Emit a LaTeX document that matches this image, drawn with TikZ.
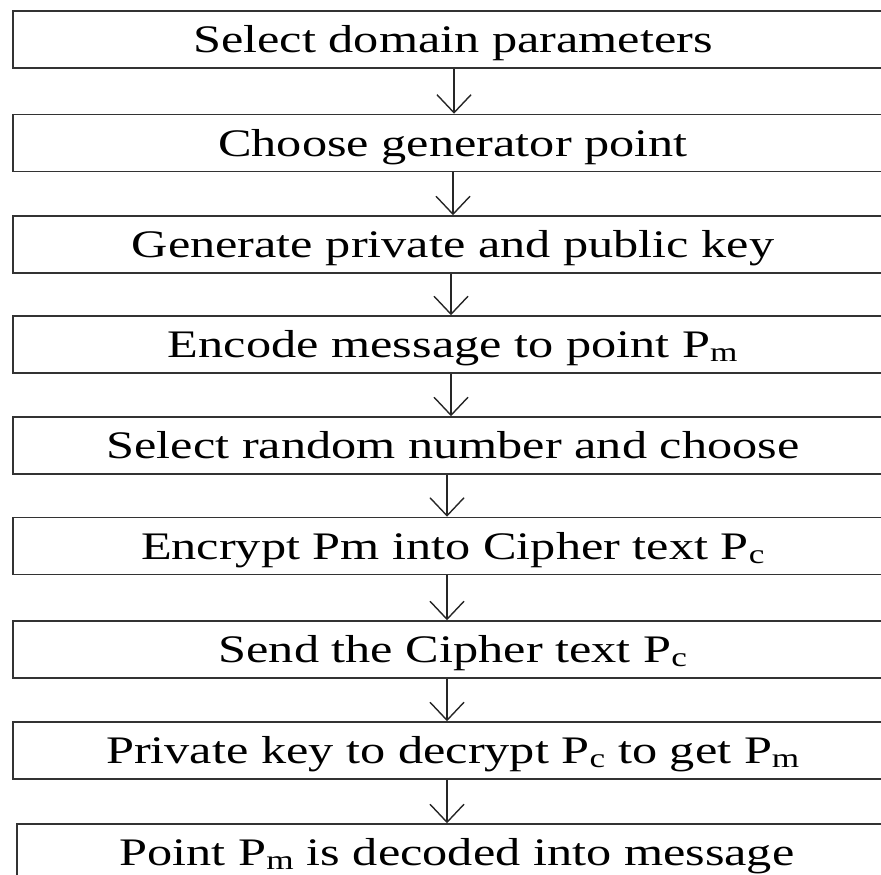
\documentclass[tikz,border=0pt]{standalone}
\usepackage{fontspec}
\setmainfont{Liberation Serif}[FakeStretch=1.29]
\usetikzlibrary{arrows.meta}
\begin{document}
\begin{tikzpicture}[x=1pt,y=-1pt,
  stepbox/.style={draw=black!80, line width=1.5pt, rectangle, minimum width=880pt,
    minimum height=57pt, inner sep=0pt, text height=26pt, text depth=0pt,
    font=\fontsize{39}{46}\selectfont},
  flow/.style={draw=black!85, line width=1.4pt,
    -{Straight Barb[length=18pt,width=34pt,line width=1.4pt]}}]
\useasboundingbox (0,0) rectangle (881,875);
\clip (0,0) rectangle (881,875);
\node[stepbox, line width=2pt] (b1) at (453,39.5) {Select domain parameters};
\node[stepbox] (b2) at (453,143) {Choose generator point};
\node[stepbox] (b3) at (453,244.5) {Generate private and public key};
\node[stepbox] (b4) at (453,344.5) {Encode message to point P\textsubscript{m}};
\node[stepbox] (b5) at (453,445.5) {Select random number and choose};
\node[stepbox] (b6) at (453,546) {Encrypt Pm into Cipher text P\textsubscript{c}};
\node[stepbox] (b7) at (453,649.5) {Send the Cipher text P\textsubscript{c}};
\node[stepbox] (b8) at (453,750.5) {Private key to decrypt P\textsubscript{c} to get P\textsubscript{m}};
\node[stepbox] (b9) at (457,852.5) {Point P\textsubscript{m} is decoded into message};
\draw[flow] ([xshift=1pt]b1.south) -- ([xshift=1pt]b2.north);
\draw[flow] ([xshift=0pt]b2.south) -- ([xshift=0pt]b3.north);
\draw[flow] ([xshift=-2pt]b3.south) -- ([xshift=-2pt]b4.north);
\draw[flow] ([xshift=-2pt]b4.south) -- ([xshift=-2pt]b5.north);
\draw[flow] ([xshift=-6pt]b5.south) -- ([xshift=-6pt]b6.north);
\draw[flow] ([xshift=-6pt]b6.south) -- ([xshift=-6pt]b7.north);
\draw[flow] ([xshift=-6pt]b7.south) -- ([xshift=-6pt]b8.north);
\draw[flow] ([xshift=-6pt]b8.south) -- ([xshift=-10pt]b9.north);
\end{tikzpicture}
\end{document}
